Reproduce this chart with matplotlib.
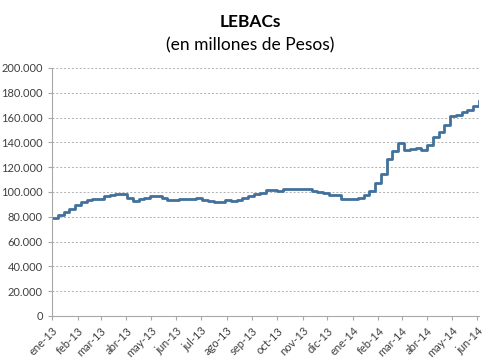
import numpy as np
import pandas as pd
import matplotlib
matplotlib.use('Agg')
import matplotlib.pyplot as plt
from matplotlib.ticker import FuncFormatter

plt.rcParams['font.family'] = ['Lato', 'DejaVu Sans']

# stock semanal de LEBACs (en millones de pesos)
fechas = pd.date_range('2013-01-01', periods=75, freq='7D')
valores = [79, 81.5, 84, 86, 89.5, 92, 93.8, 94, 94.5, 96.5,
           97.5, 98, 98.2, 95, 92.5, 94, 95.5, 96.5, 96.5, 95,
           93.2, 93.2, 94.2, 94.3, 94.5, 95, 93.5, 92.5, 92.2, 92,
           93.2, 93, 93.8, 94.8, 96.5, 98, 99.5, 101.5, 101.8, 100.8,
           102.4, 102.6, 102.3, 102.5, 102.3, 101, 100.3, 99.3, 97.8, 97.3,
           94.5, 94.6, 94.3, 95.5, 97.5, 101, 107, 114.5, 126.5, 133,
           139.8, 134, 135, 135.7, 134, 138, 144.6, 148, 154, 161.5,
           162, 164.8, 166.2, 169, 173.5]
valores = np.array(valores) * 1000

meses = ['ene', 'feb', 'mar', 'abr', 'may', 'jun', 'jul', 'ago', 'sep', 'oct', 'nov', 'dic']
ticks_x = pd.date_range('2013-01-01', '2014-06-01', freq='MS')
etiquetas_x = [meses[d.month - 1] + '-' + d.strftime('%y') for d in ticks_x]

fig = plt.figure(figsize=(5, 3.63), dpi=100)
ax = fig.add_axes([0.104, 0.1295, 0.854, 0.6832])

x = list(fechas) + [pd.Timestamp('2014-06-03')]
y = list(valores) + [valores[-1]]
ax.step(x, y, where='post', color='#41719C', lw=2)

ax.set_ylim(0, 200000)
ax.set_yticks(np.arange(0, 200001, 20000))
ax.yaxis.set_major_formatter(FuncFormatter(lambda v, p: '{:,.0f}'.format(v).replace(',', '.')))
ax.set_xlim(pd.Timestamp('2013-01-01'), pd.Timestamp('2014-06-03'))
ax.set_xticks(ticks_x)
ax.set_xticklabels(etiquetas_x, rotation=45, ha='right', rotation_mode='anchor')

ax.grid(axis='y', color='#B0B0B0', ls=(0, (2, 2)), lw=0.7)
ax.set_axisbelow(True)
for s in ['top', 'right']:
    ax.spines[s].set_visible(False)
for s in ['left', 'bottom']:
    ax.spines[s].set_color('#A8A8A8')
ax.tick_params(axis='both', colors='#A8A8A8', labelcolor='#404040', labelsize=8, length=3)

fig.text(0.5, 0.94, 'LEBACs', ha='center', va='center', fontsize=12.5, fontweight='bold')
fig.text(0.5, 0.875, '(en millones de Pesos)', ha='center', va='center', fontsize=12.5)

fig.savefig('out.png', dpi=100)
